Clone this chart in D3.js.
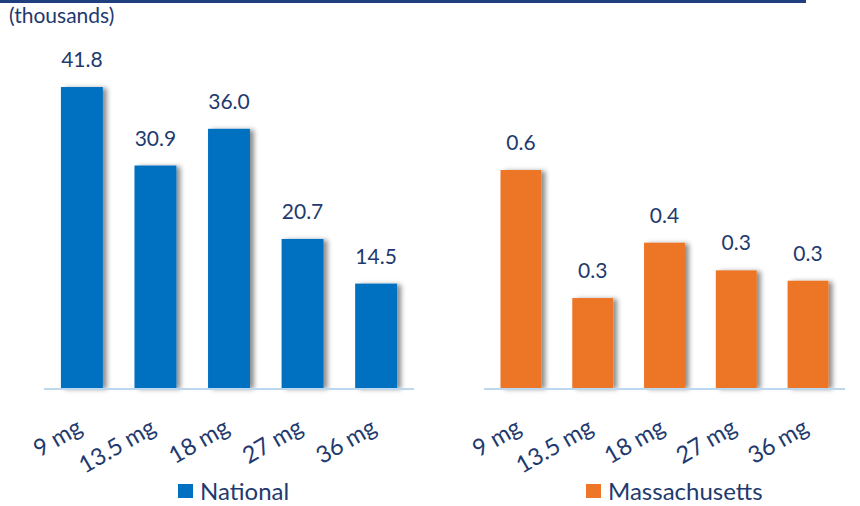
<!DOCTYPE html>
<html><head><meta charset="utf-8">
<script src="https://cdn.jsdelivr.net/npm/d3@7"></script>
<style>body{margin:0;background:#fff}svg{display:block}text{font-family:Lato,"Open Sans",sans-serif}</style>
</head><body><svg id="c" width="860" height="506"></svg>
<script>
const categories = ["9 mg","13.5 mg","18 mg","27 mg","36 mg"];
const nationalValues = [41.8, 30.9, 36.0, 20.7, 14.5];
const massValues = [0.63, 0.26, 0.42, 0.34, 0.31];
const seriesNames = ["National","Massachusetts"];
const unitLabel = "(thousands)";

const svg = d3.select("#c");
const navy = "#1F3A6E";
const defs = svg.append("defs");
const f = defs.append("filter").attr("id","sh").attr("x","-20%").attr("y","-20%").attr("width","160%").attr("height","140%");
f.append("feDropShadow").attr("dx",4).attr("dy",1).attr("stdDeviation",2.5).attr("flood-color","#000").attr("flood-opacity",0.45);

svg.append("line").attr("x1",0).attr("x2",806).attr("y1",1.5).attr("y2",1.5).attr("stroke","#1F3F7F").attr("stroke-width",3);
svg.append("text").attr("x",9).attr("y",23).attr("fill",navy).attr("font-size",21).text(unitLabel);

const baseY = 388;
const panels = [
  {vals: nationalValues, color:"#0070C0", x0:44, x1:414, yMax:45, yTop:388-45*7.2, fmt:d=>d.toFixed(1), name:seriesNames[0], legX:178},
  {vals: massValues, color:"#ED7628", x0:484, x1:845, yMax:0.7, yTop:388-0.7*346, fmt:d=>d.toFixed(1), name:seriesNames[1], legX:586}
];
panels.forEach(p=>{
  const x = d3.scaleBand().domain(categories).range([p.x0, p.x1]).paddingInner(0.43).paddingOuter(0.23);
  const y = d3.scaleLinear().domain([0,p.yMax]).range([baseY, p.yTop]);
  const g = svg.append("g");
  g.selectAll("rect.bar").data(p.vals).join("rect").attr("class","bar")
    .attr("x",(d,i)=>x(categories[i])).attr("width",x.bandwidth())
    .attr("y",d=>y(d)).attr("height",d=>baseY-y(d))
    .attr("fill",p.color).attr("filter","url(#sh)");
  g.append("line").attr("x1",p.x0).attr("x2",p.x1).attr("y1",baseY+1).attr("y2",baseY+1)
    .attr("stroke","#BDD7EE").attr("stroke-width",2);
  g.selectAll("text.v").data(p.vals).join("text").attr("class","v")
    .attr("x",(d,i)=>x(categories[i])+x.bandwidth()/2).attr("y",d=>y(d)-20)
    .attr("text-anchor","middle").attr("fill",navy).attr("font-size",21).text(p.fmt);
  const ax = d3.axisBottom(x).tickSize(0).tickPadding(0);
  const axg = g.append("g").attr("transform",`translate(0,${baseY})`).call(ax);
  axg.select(".domain").remove();
  axg.selectAll("text").attr("fill",navy).attr("font-size",23.5)
    .attr("text-anchor","end").attr("y",0).attr("dy",0)
    .attr("transform","translate(2,44) rotate(-30)");
  svg.append("rect").attr("x",p.legX).attr("y",484).attr("width",15).attr("height",14).attr("fill",p.color);
  svg.append("text").attr("x",p.legX+22).attr("y",500).attr("fill",navy).attr("font-size",24).text(p.name);
});
</script></body></html>
